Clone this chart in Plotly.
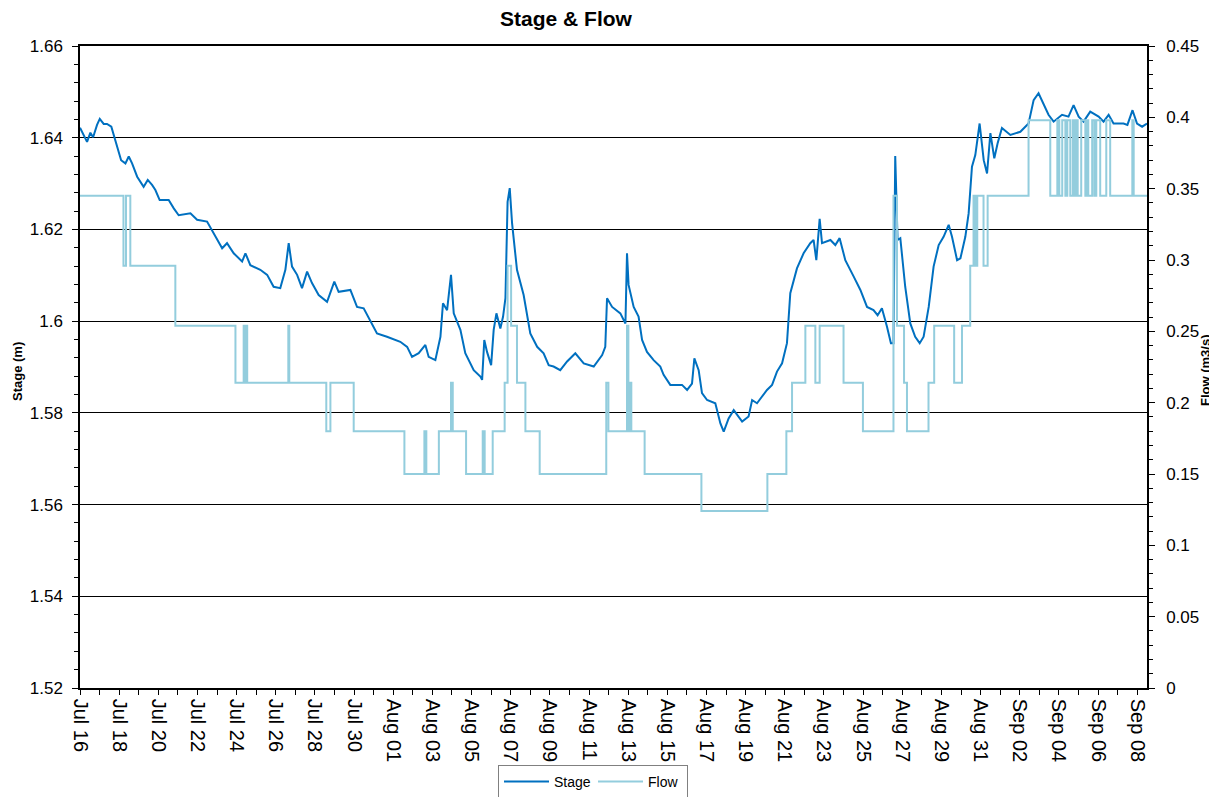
import pandas as pd
import plotly.graph_objects as go

START = "2019-07-16"

# Stage (m): days since Jul 16 00:00 and stage readings
stage_days = [0.00, 0.36, 0.53, 0.67, 0.87, 1.01, 1.21, 1.38, 1.60, 1.81, 1.98, 2.10, 2.32, 2.49, 2.66,
              2.92, 3.25, 3.46, 3.68, 3.85, 4.07, 4.53, 4.79, 5.04, 5.64, 5.98, 6.49, 6.83, 7.26, 7.51,
              7.85, 8.28, 8.45, 8.70, 9.21, 9.56, 9.89, 10.23, 10.49, 10.66, 10.83, 11.09, 11.34, 11.60,
              11.85, 12.19, 12.62, 12.99, 13.21, 13.81, 14.15, 14.49, 14.83, 15.17, 15.68, 16.36, 16.71,
              16.96, 17.30, 17.64, 17.81, 18.15, 18.41, 18.54, 18.75, 18.95, 19.09, 19.43, 19.68, 20.11,
              20.45, 20.54, 20.65, 20.79, 21.00, 21.13, 21.27, 21.47, 21.61, 21.73, 21.84, 21.95, 22.07,
              22.32, 22.66, 23.00, 23.35, 23.68, 23.94, 24.19, 24.53, 24.88, 25.30, 25.73, 26.24, 26.67,
              26.83, 26.92, 27.18, 27.60, 27.86, 27.94, 28.02, 28.28, 28.53, 28.71, 28.96, 29.30, 29.64,
              29.81, 30.15, 30.75, 31.01, 31.26, 31.38, 31.60, 31.77, 32.03, 32.45, 32.71, 32.88, 33.13,
              33.39, 33.56, 33.82, 34.15, 34.33, 34.58, 34.84, 35.09, 35.35, 35.60, 35.86, 36.11, 36.28,
              36.62, 36.96, 37.30, 37.47, 37.61, 37.78, 37.90, 38.33, 38.58, 38.80, 39.09, 39.52, 39.86,
              40.20, 40.53, 40.74, 40.96, 41.22, 41.42, 41.55, 41.64, 41.76, 41.90, 42.15, 42.41, 42.66,
              42.89, 43.09, 43.35, 43.60, 43.86, 44.11, 44.37, 44.54, 44.80, 44.97, 45.22, 45.39, 45.56,
              45.73, 45.82, 45.95, 46.16, 46.33, 46.50, 46.70, 46.87, 47.09, 47.52, 48.03, 48.45, 48.71,
              48.96, 49.22, 49.47, 49.73, 50.16, 50.49, 50.75, 51.01, 51.26, 51.60, 52.03, 52.28, 52.54,
              52.79, 53.30, 53.50, 53.76, 53.99, 54.25, 54.50]
stage_m = [1.6422, 1.6391, 1.6411, 1.6401, 1.6428, 1.6441, 1.6430, 1.6430, 1.6424, 1.6395, 1.6370, 1.6351,
           1.6344, 1.6359, 1.6344, 1.6315, 1.6293, 1.6308, 1.6297, 1.6286, 1.6264, 1.6264, 1.6246, 1.6231,
           1.6235, 1.6221, 1.6217, 1.6192, 1.6159, 1.6170, 1.6148, 1.6130, 1.6148, 1.6122, 1.6112, 1.6101,
           1.6075, 1.6072, 1.6112, 1.6170, 1.6119, 1.6101, 1.6072, 1.6108, 1.6083, 1.6057, 1.6042, 1.6086,
           1.6064, 1.6068, 1.6031, 1.6028, 1.6002, 1.5973, 1.5966, 1.5955, 1.5944, 1.5922, 1.5930, 1.5948,
           1.5922, 1.5915, 1.5966, 1.6039, 1.6024, 1.6101, 1.6017, 1.5981, 1.5930, 1.5893, 1.5879, 1.5872,
           1.5959, 1.5933, 1.5904, 1.5981, 1.6017, 1.5984, 1.6010, 1.6050, 1.6260, 1.6290, 1.6213, 1.6112,
           1.6057, 1.5973, 1.5944, 1.5930, 1.5904, 1.5901, 1.5893, 1.5912, 1.5930, 1.5908, 1.5901, 1.5926,
           1.5944, 1.6050, 1.6031, 1.6017, 1.5995, 1.6148, 1.6079, 1.6031, 1.6010, 1.5959, 1.5933, 1.5915,
           1.5901, 1.5883, 1.5861, 1.5861, 1.5850, 1.5864, 1.5919, 1.5893, 1.5843, 1.5828, 1.5821, 1.5777,
           1.5759, 1.5788, 1.5806, 1.5795, 1.5781, 1.5792, 1.5828, 1.5821, 1.5835, 1.5850, 1.5861, 1.5890,
           1.5908, 1.5952, 1.6061, 1.6115, 1.6148, 1.6170, 1.6177, 1.6133, 1.6223, 1.6170, 1.6177, 1.6166,
           1.6181, 1.6133, 1.6097, 1.6068, 1.6031, 1.6024, 1.6013, 1.6028, 1.5988, 1.5952, 1.5952, 1.6360,
           1.6177, 1.6181, 1.6075, 1.5995, 1.5966, 1.5952, 1.5966, 1.6031, 1.6119, 1.6166, 1.6184, 1.6210,
           1.6184, 1.6133, 1.6137, 1.6184, 1.6235, 1.6337, 1.6362, 1.6391, 1.6431, 1.6351, 1.6322, 1.6410,
           1.6355, 1.6388, 1.6421, 1.6406, 1.6413, 1.6431, 1.6482, 1.6497, 1.6471, 1.6450, 1.6435, 1.6450,
           1.6446, 1.6471, 1.6446, 1.6435, 1.6457, 1.6446, 1.6435, 1.6450, 1.6431, 1.6431, 1.6428, 1.6460,
           1.6431, 1.6424, 1.6431]

# Flow (m3/s): step changes, days since Jul 16 00:00
flow_days = [0.00, 2.22, 2.35, 2.57, 4.87, 7.94, 8.36, 8.44, 8.47, 8.54, 10.64, 10.69, 12.58, 12.79,
             13.98, 16.57, 17.59, 17.69, 18.33, 18.95, 19.04, 19.72, 20.57, 20.67, 21.08, 21.69, 21.84,
             22.02, 22.32, 22.75, 23.48, 26.88, 26.99, 27.94, 28.01, 28.08, 28.16, 28.84, 31.74, 35.11,
             36.08, 36.37, 37.05, 37.56, 37.78, 39.00, 39.99, 41.55, 41.73, 42.09, 42.24, 43.34, 43.63,
             44.65, 45.05, 45.47, 45.64, 45.73, 45.83, 46.15, 46.36, 48.45, 49.56, 49.92, 50.02, 50.17,
             50.33, 50.43, 50.58, 50.71, 50.79, 50.89, 50.96, 51.14, 51.35, 51.45, 51.50, 51.70, 51.81,
             51.91, 52.11, 52.42, 52.62, 53.75, 53.82, 54.50]
flow_m3s = [0.345, 0.296, 0.345, 0.296, 0.254, 0.214, 0.254, 0.214, 0.254, 0.214, 0.254, 0.214, 0.180,
            0.214, 0.180, 0.150, 0.180, 0.150, 0.180, 0.214, 0.180, 0.150, 0.180, 0.150, 0.180, 0.214,
            0.296, 0.254, 0.214, 0.180, 0.150, 0.214, 0.180, 0.254, 0.180, 0.214, 0.180, 0.150, 0.124,
            0.150, 0.180, 0.214, 0.254, 0.214, 0.254, 0.214, 0.180, 0.345, 0.254, 0.214, 0.180, 0.214,
            0.254, 0.214, 0.254, 0.296, 0.345, 0.296, 0.345, 0.296, 0.345, 0.398, 0.345, 0.398, 0.345,
            0.398, 0.345, 0.398, 0.345, 0.398, 0.345, 0.398, 0.345, 0.398, 0.345, 0.398, 0.345, 0.398,
            0.345, 0.398, 0.345, 0.398, 0.345, 0.398, 0.345, 0.345]

x_end_days = 54.5

start = pd.Timestamp(START)
stage_t = start + pd.to_timedelta(stage_days, unit="D")
flow_t = start + pd.to_timedelta(flow_days, unit="D")
x_end = start + pd.to_timedelta(x_end_days, unit="D")

FONT = "Arial, 'Liberation Sans', Helvetica, sans-serif"
DAY_MS = 86400000
# The page body adds an 8px margin, so the figure is 8px smaller and all positions shift by -8.
OFF = 8
W, H = 1217 - OFF, 797 - OFF
M_L, M_R, M_T, M_B = 72, 70, 38, 109
PW, PH = W - M_L - M_R, H - M_T - M_B


def px_x(x):  # reference-picture x -> paper fraction
    return (x - OFF - M_L) / PW


def px_y(y):  # reference-picture y -> paper fraction
    return (H - M_B - (y - OFF)) / PH


fig = go.Figure()
fig.add_trace(go.Scatter(x=stage_t, y=stage_m, name="Stage", mode="lines",
                         line=dict(color="#0070C0", width=2), yaxis="y"))
fig.add_trace(go.Scatter(x=flow_t, y=flow_m3s, name="Flow", mode="lines",
                         line=dict(color="#93CDDD", width=2, shape="hv"), yaxis="y2"))

fig.update_layout(
    width=W, height=H,
    margin=dict(l=M_L, r=M_R, t=M_T, b=M_B, autoexpand=False),
    paper_bgcolor="white", plot_bgcolor="white",
    font=dict(family=FONT, size=17, color="black"),
    title=dict(text="<b>Stage & Flow</b>", x=(566 - OFF) / W, xref="container", xanchor="center",
               y=1 - (19 - OFF) / H, yref="container", yanchor="middle",
               font=dict(size=21, color="black")),
    showlegend=True,
    legend=dict(orientation="h", x=px_x(593), xanchor="center", y=px_y(765), yanchor="top",
                bordercolor="#808080", borderwidth=1, font=dict(size=14), bgcolor="white",
                itemwidth=45, entrywidth=34, entrywidthmode="pixels"),
    xaxis=dict(type="date", range=[start, x_end], tick0=start, dtick=2 * DAY_MS,
               tickformat="%b %d", tickangle=90, ticks="outside", ticklen=5, tickcolor="black",
               tickfont=dict(size=20), ticklabelstandoff=0,
               showline=True, linecolor="black", linewidth=1.5, mirror=True, showgrid=False,
               zeroline=False, automargin=False,
               minor=dict(dtick=DAY_MS, tick0=start, ticks="outside", ticklen=5, tickcolor="black")),
    yaxis=dict(range=[1.52, 1.66], dtick=0.02, tickformat=".2~f", ticks="outside", ticklen=6,
               tickcolor="black", showline=True, linecolor="black", linewidth=1.5,
               ticklabelstandoff=6, automargin=False,
               showgrid=True, gridcolor="black", gridwidth=1, zeroline=False,
               minor=dict(dtick=0.004, ticks="outside", ticklen=4, tickcolor="black", showgrid=False)),
    yaxis2=dict(overlaying="y", side="right", range=[0, 0.45], dtick=0.05, tickformat=".2~f",
                ticks="outside", ticklen=6, tickcolor="black", showline=True, linecolor="black",
                linewidth=1.5, showgrid=False, zeroline=False, ticklabelstandoff=8, automargin=False,
                minor=dict(dtick=0.01, ticks="outside", ticklen=4, tickcolor="black")),
    annotations=[
        dict(text="<b>Stage (m)</b>", xref="paper", yref="paper", x=px_x(18), y=px_y(372),
             xanchor="center", yanchor="middle", textangle=-90, showarrow=False,
             font=dict(size=13, color="black")),
        dict(text="<b>Flow (m3/s)</b>", xref="paper", yref="paper", x=px_x(1205), y=px_y(370),
             xanchor="center", yanchor="middle", textangle=-90, showarrow=False,
             font=dict(size=13, color="black")),
    ],
)

fig.write_html("out.html")
